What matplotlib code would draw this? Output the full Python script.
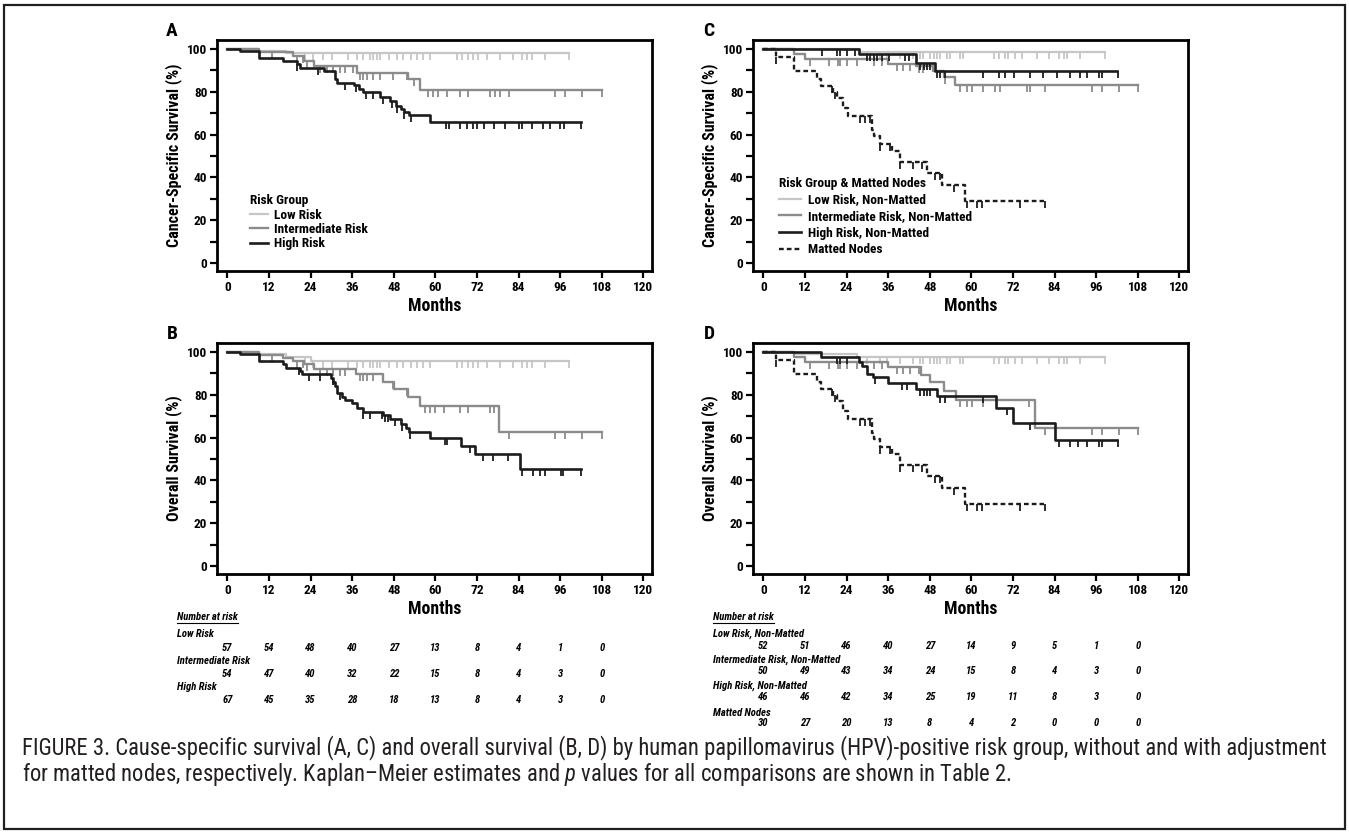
import numpy as np
import matplotlib
matplotlib.use("Agg")
import matplotlib.pyplot as plt
from matplotlib import font_manager
from matplotlib.lines import Line2D
from matplotlib.patches import Rectangle
from matplotlib.transforms import blended_transform_factory

installed = {f.name for f in font_manager.fontManager.ttflist}
FONT = "DejaVu Sans"
for cand in ["Roboto Condensed", "Liberation Sans Narrow", "Open Sans Condensed"]:
    if cand in installed:
        FONT = cand
        break
plt.rcParams["font.family"] = [FONT, "DejaVu Sans"]
if FONT == "DejaVu Sans":
    plt.rcParams["font.stretch"] = "condensed"
plt.rcParams["font.weight"] = "bold"
plt.rcParams["mathtext.fontset"] = "custom"
plt.rcParams["mathtext.it"] = FONT + ":style=italic:weight=normal"
plt.rcParams["mathtext.rm"] = FONT + ":weight=normal"

# ---- Kaplan-Meier curves (months, % surviving) ----
# A: cancer-specific survival by risk group
A_low_t = [0, 9, 17]
A_low_s = [100, 99.2, 98]
A_low_end = 98.5
A_low_c = [22.4, 24.8, 27.5, 30.1, 34.9, 37.3, 39.0, 41.2, 42.1, 43.1, 44.0, 46.7, 48.8, 50.8,
           52.9, 54.8, 56.5, 58.5, 66.2, 67.6, 69.5, 70.8, 72.4, 74.8, 78.7, 82.3, 84.9, 86.3,
           87.8, 91.6, 98.5]
A_mid_t = [0, 9, 19, 22, 25, 37.5, 52, 55.5]
A_mid_s = [100, 98.5, 96.5, 94.5, 92, 89, 86, 81]
A_mid_end = 108
A_mid_c = [12.8, 20, 21.9, 22.9, 26.7, 28.7, 30.6, 32.5, 33.9, 36.3, 38.3, 39.2, 40.2, 42.1, 44,
           47.9, 51.7, 53.7, 58, 59.4, 60.9, 63.3, 67.1, 69.5, 75.8, 77.2, 78.7, 81.1, 94.5,
           97.4, 102.2, 108]
A_high_t = [0, 3.5, 9, 16, 20, 21, 28, 31, 31.5, 36.5, 38, 39, 44, 47, 48.5, 50, 51, 52.5, 58.5]
A_high_s = [100, 99, 96, 94.5, 93, 91, 89.5, 86, 84, 83, 81.5, 80, 77.5, 75.5, 73.5, 72, 70.5, 69, 66]
A_high_end = 102
A_high_c = [20, 26, 34, 37, 40, 42, 45, 47.5, 49, 51, 53, 63, 64, 67, 69, 71, 72, 74, 77, 80,
            84, 85, 88, 91, 93, 96, 97, 102]

# B: overall survival by risk group
B_low_t = [0, 9, 17, 24]
B_low_s = [100, 99, 97.8, 96]
B_low_end = 98.5
B_low_c = [22.4, 24.8, 27.5, 30.1, 34.9, 37.3, 39.0, 41.2, 42.1, 43.1, 44.0, 46.7, 48.8, 50.8,
           52.9, 54.8, 56.5, 58.5, 66.2, 67.6, 69.5, 70.8, 72.4, 74.8, 78.7, 82.3, 84.9, 86.3,
           87.8, 91.6, 98.5]
B_mid_t = [0, 9, 16, 19, 22, 25, 37, 45, 48, 52, 55.5, 78.5]
B_mid_s = [100, 98.5, 97, 96, 94.5, 92, 89.5, 86, 82.5, 79, 75, 62.5]
B_mid_end = 108
B_mid_c = [12.8, 20, 21.9, 22.9, 26.7, 28.7, 30.6, 32.5, 33.9, 38.3, 39.2, 40.2, 42.1, 47.9,
           51.7, 57, 58.5, 60, 62.5, 67.1, 69.5, 75.8, 77, 81.1, 94.5, 97.4, 102.2, 108]
B_high_t = [0, 3.5, 9, 16, 17, 21, 21.5, 30, 30.5, 31, 31.5, 33, 34, 36, 37.5, 39, 45, 47, 50,
            51.5, 52.5, 58.5, 67.5, 71.5, 84.5]
B_high_s = [100, 99, 96, 94.5, 92.5, 91, 89.5, 88, 86, 84, 81, 79, 77.5, 76, 74, 72, 70.5, 68.5,
            66.5, 64.5, 62.5, 60, 56, 52.5, 45.5]
B_high_end = 102
B_high_c = [20.8, 23.4, 26.7, 30.4, 32.5, 39, 41.2, 44.5, 45.5, 46.4, 48.4, 50.3, 52.7, 62.8,
            63.3, 70, 73.8, 76.7, 81, 84.9, 88.3, 90.2, 91.6, 96.2, 96.9, 102]

# C: cancer-specific survival, risk group & matted nodes
C_low_t = [0, 28]
C_low_s = [100, 98.5]
C_low_end = 98.6
C_low_c = [29.8, 33.7, 35.6, 39.5, 43.3, 45.2, 46, 48.1, 49.1, 50, 51, 52.9, 53.7, 56.8, 57.7,
           66.4, 67.9, 69.8, 70.7, 72.7, 74.6, 78.9, 82.3, 85.2, 86.6, 87.6, 91.4, 98.6]
C_mid_t = [0, 8.7, 12, 36, 44, 49, 52, 55.3]
C_mid_s = [100, 97.5, 95.3, 93, 92, 89.6, 87, 83]
C_mid_end = 108
C_mid_c = [13.5, 18.8, 21.4, 22.1, 24, 27, 31.8, 34.2, 38.5, 40.4, 42.3, 44.8, 46, 52.5, 56.8,
           58.7, 60.2, 63.5, 66.9, 68.3, 76, 77, 81.3, 94.8, 97.7, 102.5, 108]
C_high_t = [0, 27.5, 44, 49.5]
C_high_s = [100, 97.5, 93.5, 89.5]
C_high_end = 102
C_high_c = [16.8, 21.2, 22.1, 24, 26.5, 29.8, 30.8, 31.8, 32.7, 34.2, 36.1, 40.9, 41.9, 45.2,
            46.2, 47.2, 48.1, 50, 51, 52.5, 63.5, 67.9, 69.8, 72.2, 77, 80.8, 84.7, 88.5, 91.4,
            93.4, 96.7, 97.7, 102.3]
C_mat_t = [0, 3.7, 8.7, 15.6, 16.6, 20, 21.2, 22.9, 24.5, 31.3, 31.8, 33.7, 37, 39.3, 47.2,
           51.5, 58.2]
C_mat_s = [100, 96.3, 89.6, 86, 82.6, 80, 77, 72.4, 68.8, 62, 59.5, 55.8, 52.2, 47, 42, 36.4, 28.8]
C_mat_end = 81
C_mat_c = [3.7, 19.7, 20.6, 27.9, 29.4, 30.8, 33.7, 36.6, 39.3, 43.3, 45.7, 49.6, 51, 54.9,
           58.7, 61.6, 63, 74.1, 81.1]

# D: overall survival, risk group & matted nodes
D_low_t = [0, 9, 27]
D_low_s = [100, 99, 97.5]
D_low_end = 98.6
D_low_c = [29.8, 33.7, 35.6, 39.5, 43.3, 45.2, 46, 48.1, 49.1, 50, 51, 52.9, 53.7, 56.8, 57.7,
           66.4, 67.9, 69.8, 70.7, 72.7, 74.6, 78.9, 82.3, 85.2, 86.6, 87.6, 91.4, 98.6]
D_mid_t = [0, 8.7, 12, 36, 45.5, 48, 52, 55.5, 78.5]
D_mid_s = [100, 97.5, 95.5, 93, 89.2, 85.8, 81.6, 77.7, 64.6]
D_mid_end = 108
D_mid_c = [13.5, 18.8, 21.4, 22.1, 24, 27, 31.8, 34.2, 38.5, 40.4, 42.3, 44.8, 56.8, 58.7, 60.2,
           63.5, 76.5, 81.3, 94.8, 97.7, 102.5, 108]
D_high_t = [0, 16.5, 27.5, 28.5, 30, 31.5, 36, 44, 50, 67, 72, 84]
D_high_s = [100, 97.5, 95.5, 93.5, 89.9, 88.1, 85.5, 82.7, 79.3, 73.8, 66.6, 59]
D_high_end = 102
D_high_c = [21.2, 22.1, 24, 32.2, 39.9, 41.4, 45.2, 46.2, 47.2, 48.1, 51, 52.5, 63.5, 70.3, 77,
            85.2, 88.5, 90.9, 93.4, 96.7, 97.7, 102.3]
D_mat_t = [0, 3.7, 8.7, 15.6, 16.6, 20, 21.2, 22.9, 24.5, 31.3, 31.8, 33.7, 37, 39.3, 47.2,
           51.5, 58.2]
D_mat_s = [100, 96.3, 89.6, 86, 82.6, 80, 77, 72.4, 68.8, 62, 59.5, 55.8, 52.2, 47, 42, 36.4, 28.8]
D_mat_end = 81
D_mat_c = [3.7, 19.7, 20.6, 27.9, 29.4, 30.8, 33.7, 36.6, 39.3, 43.3, 45.7, 49.6, 51, 54.9,
           58.7, 61.6, 63, 74.1, 81.1]

# ---- number at risk ----
risk_months = [0, 12, 24, 36, 48, 60, 72, 84, 96, 108]
left_names = ["Low Risk", "Intermediate Risk", "High Risk"]
left_low = [57, 54, 48, 40, 27, 13, 8, 4, 1, 0]
left_mid = [54, 47, 40, 32, 22, 15, 8, 4, 3, 0]
left_high = [67, 45, 35, 28, 18, 13, 8, 4, 3, 0]
right_names = ["Low Risk, Non-Matted", "Intermediate Risk, Non-Matted",
               "High Risk, Non-Matted", "Matted Nodes"]
right_low = [52, 51, 46, 40, 27, 14, 9, 5, 1, 0]
right_mid = [50, 49, 43, 34, 24, 15, 8, 4, 3, 0]
right_high = [46, 46, 42, 34, 25, 19, 11, 8, 3, 0]
right_mat = [30, 27, 20, 13, 8, 4, 2, 0, 0, 0]

caption1 = ("FIGURE 3. Cause-specific survival (A, C) and overall survival (B, D) by human "
            "papillomavirus (HPV)-positive risk group, without and with adjustment")
caption2 = ("for matted nodes, respectively. Kaplan\u2013Meier estimates and $p$ values for all "
            "comparisons are shown in Table 2.")

LOW, MID, HIGH = "#c6c6c6", "#8b8b8b", "#1c1c1c"
W, H = 1349, 832


def fy(px):
    return 1 - px / H


fig = plt.figure(figsize=(W / 100, H / 100), dpi=100)
renderer = fig.canvas.get_renderer()


def fit(s, target_px, lo, hi, **kw):
    # font size that makes text s about target_px wide (the reference uses a condensed face)
    t = fig.text(0, 0, s, fontsize=10, **kw)
    w = t.get_window_extent(renderer).width
    t.remove()
    return float(np.clip(10 * target_px / w, lo, hi))


YLAB = fit("Cancer-Specific Survival (%)", 192, 9.5, 11.5, fontweight="bold")
MONTHS = fit("Months", 53, 11, 13.5, fontweight="bold")
LEG = fit("Intermediate Risk, Non-Matted", 165, 8.3, 9.8, fontweight="bold")
TAB = fit("Intermediate Risk, Non-Matted", 128, 6.8, 8.5, fontweight="bold", fontstyle="italic")
CAP = fit(caption1.replace("$", ""), 1298, 11, 17, fontweight="normal")
LEG_PX = LEG * 100 / 72


def km(ax, t, s, end, cens, color, lw, ls="-", label=None):
    tt = np.append(t, end)
    ss = np.append(s, s[-1])
    ax.step(tt, ss, where="post", color=color, lw=lw, ls=ls, label=label)
    idx = np.searchsorted(t, cens, side="right") - 1
    ax.plot(cens, np.asarray(s)[idx], ls="none", marker=3, ms=5, mew=1.3, color=color)


def setup(ax, ylabel):
    ax.set_xlim(-3, 122.5)
    ax.set_ylim(-3.7, 104.2)
    ax.set_xticks(range(0, 121, 12))
    ax.set_yticks(range(0, 101, 20))
    ax.set_yticks(range(10, 100, 20), minor=True)
    ax.tick_params(which="both", direction="out", length=5, width=1.6, labelsize=9.5, pad=2)
    for sp in ax.spines.values():
        sp.set_linewidth(2)
    ax.set_xlabel("Months", fontsize=MONTHS, fontweight="bold")
    ax.xaxis.set_label_coords(0.5, -0.112)
    ax.set_ylabel(ylabel, fontsize=YLAB, fontweight="bold")
    ax.yaxis.set_label_coords(-0.08, 0.5)


axA = fig.add_axes([217 / W, fy(271), 435 / W, 231 / H])
axB = fig.add_axes([217 / W, fy(574), 435 / W, 231 / H])
axC = fig.add_axes([753 / W, fy(271), 435 / W, 231 / H])
axD = fig.add_axes([753 / W, fy(574), 435 / W, 231 / H])

DASH = (0, (2, 1.3))
km(axA, A_low_t, A_low_s, A_low_end, A_low_c, LOW, 1.6, label="Low Risk")
km(axA, A_mid_t, A_mid_s, A_mid_end, A_mid_c, MID, 1.7, label="Intermediate Risk")
km(axA, A_high_t, A_high_s, A_high_end, A_high_c, HIGH, 1.9, label="High Risk")

km(axB, B_low_t, B_low_s, B_low_end, B_low_c, LOW, 1.6)
km(axB, B_mid_t, B_mid_s, B_mid_end, B_mid_c, MID, 1.7)
km(axB, B_high_t, B_high_s, B_high_end, B_high_c, HIGH, 1.9)

km(axC, C_low_t, C_low_s, C_low_end, C_low_c, LOW, 1.6, label="Low Risk, Non-Matted")
km(axC, C_mid_t, C_mid_s, C_mid_end, C_mid_c, MID, 1.7, label="Intermediate Risk, Non-Matted")
km(axC, C_high_t, C_high_s, C_high_end, C_high_c, HIGH, 1.9, label="High Risk, Non-Matted")
km(axC, C_mat_t, C_mat_s, C_mat_end, C_mat_c, HIGH, 1.7, ls=DASH, label="Matted Nodes")

km(axD, D_low_t, D_low_s, D_low_end, D_low_c, LOW, 1.6)
km(axD, D_mid_t, D_mid_s, D_mid_end, D_mid_c, MID, 1.7)
km(axD, D_high_t, D_high_s, D_high_end, D_high_c, HIGH, 1.9)
km(axD, D_mat_t, D_mat_s, D_mat_end, D_mat_c, HIGH, 1.7, ls=DASH)

setup(axA, "Cancer-Specific Survival (%)")
setup(axB, "Overall Survival (%)")
setup(axC, "Cancer-Specific Survival (%)")
setup(axD, "Overall Survival (%)")

axA.legend(title="Risk Group", loc="upper left", bbox_to_anchor=(0.076, 0.332), frameon=False,
           fontsize=LEG, title_fontsize=LEG, handlelength=18 / LEG_PX,
           handletextpad=6 / LEG_PX, labelspacing=max(0, (14.5 - 0.98 * LEG_PX) / LEG_PX),
           borderpad=0, borderaxespad=0, alignment="left")
axC.legend(title="Risk Group & Matted Nodes", loc="upper left", bbox_to_anchor=(0.06, 0.407),
           frameon=False, fontsize=LEG, title_fontsize=LEG, handlelength=22 / LEG_PX,
           handletextpad=7 / LEG_PX, labelspacing=max(0, (16.7 - 0.98 * LEG_PX) / LEG_PX),
           borderpad=0, borderaxespad=0, alignment="left")

for lab, x, y in [("A", 172, 31), ("B", 172, 334), ("C", 709, 31), ("D", 709, 334)]:
    fig.text(x / W, fy(y), lab, fontsize=14, fontweight="bold", ha="center", va="center")


def risk_table(ax, names, rows, head_y, name_ys, num_ys):
    tr = blended_transform_factory(ax.transData, fig.transFigure)
    kw = dict(transform=tr, fontsize=TAB, fontstyle="italic", fontweight="bold",
              va="center", clip_on=False)
    head = ax.text(-14.6, fy(head_y), "Number at risk", **kw)
    for name, vals, ny, vy in zip(names, rows, name_ys, num_ys):
        ax.text(-14.6, fy(ny), name, **kw)
        for m, v in zip(risk_months, vals):
            ax.text(m, fy(vy), str(v), ha="center", **kw)
    return head


h1 = risk_table(axB, left_names, [left_low, left_mid, left_high], 617,
                [634, 661, 687], [648, 674, 700])
h2 = risk_table(axD, right_names, [right_low, right_mid, right_high, right_mat], 617,
                [634, 660, 686, 713], [646, 671, 697, 723])

fig.text(22 / W, fy(748), caption1, fontsize=CAP, fontweight="normal", va="center",
         color="#231f20")
fig.text(22 / W, fy(775), caption2, fontsize=CAP, fontweight="normal", va="center",
         color="#231f20")

fig.add_artist(Rectangle((4 / W, fy(829)), 1341 / W, 824 / H, transform=fig.transFigure,
                         fill=False, lw=1.6, ec="#231f20"))

# underline the "Number at risk" headers
fig.canvas.draw()
for h in (h1, h2):
    bb = h.get_window_extent()
    fig.add_artist(Line2D([bb.x0 / W, bb.x1 / W], [(bb.y0 - 1) / H, (bb.y0 - 1) / H],
                          transform=fig.transFigure, lw=0.8, color="black"))

fig.savefig("out.png", dpi=100)
